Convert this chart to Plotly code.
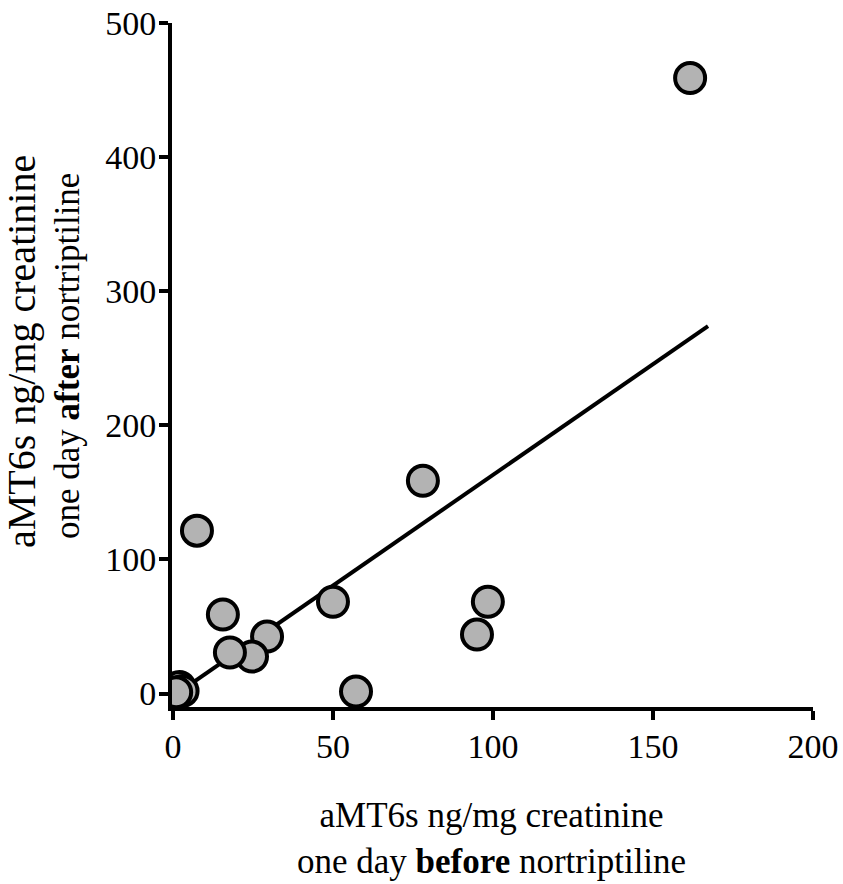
import plotly.graph_objects as go

before_x = [161.6, 78.1, 7.5, 50, 15.6, 29.4, 24.7, 17.8, 57.2, 98.4, 95, 0.5, 2, 3, 1]
after_y = [459, 158.7, 121.5, 68.5, 59, 42.5, 27.6, 30.6, 1.5, 68.5, 44, 3, 5, 2, 1]
fit_x = [0, 167.2]
fit_y = [-2, 274]

x_ticks = [0, 50, 100, 150, 200]
y_ticks = [0, 100, 200, 300, 400, 500]

FONT = "Liberation Serif"

fig = go.Figure()
fig.add_trace(go.Scatter(x=fit_x, y=fit_y, mode="lines",
                         line=dict(color="black", width=4), hoverinfo="skip"))
fig.add_trace(go.Scatter(x=before_x, y=after_y, mode="markers",
                         marker=dict(size=30, color="#b3b3b3",
                                     line=dict(color="black", width=4))))

axis_common = dict(showgrid=False, zeroline=False, showline=True, linecolor="black",
                   linewidth=4, ticks="outside", ticklen=9, tickwidth=4, tickcolor="black",
                   automargin=False,
                   tickfont=dict(family=FONT, size=34, color="black"))

fig.update_xaxes(range=[-0.3, 200], tickvals=x_ticks, ticklabelstandoff=-3, **axis_common)
fig.update_yaxes(range=[-10, 500], tickvals=y_ticks, ticklabelstandoff=-4, **axis_common)

# plot area: left 172, right 813, top 23, bottom 707
PW = 843 - 172 - 30
PH = 884 - 23 - 177

def px_to_paper_x(px):
    return (px - 172) / PW

def py_to_paper_y(py):
    return (707 - py) / PH

fig.add_annotation(xref="paper", yref="paper", x=px_to_paper_x(491), y=py_to_paper_y(838),
                   yanchor="middle", showarrow=False,
                   text="aMT6s ng/mg creatinine<br>one day <b>before</b> nortriptiline",
                   font=dict(family=FONT, size=35, color="black"))
fig.add_annotation(xref="paper", yref="paper", x=px_to_paper_x(21), y=py_to_paper_y(352),
                   xanchor="center", yanchor="middle", textangle=-90, showarrow=False,
                   text="aMT6s ng/mg creatinine",
                   font=dict(family=FONT, size=40, color="black"))
fig.add_annotation(xref="paper", yref="paper", x=px_to_paper_x(67), y=py_to_paper_y(356),
                   xanchor="center", yanchor="middle", textangle=-90, showarrow=False,
                   text="one day <b>after</b> nortriptiline",
                   font=dict(family=FONT, size=35, color="black"))

fig.update_layout(width=843, height=884, showlegend=False,
                  plot_bgcolor="white", paper_bgcolor="white",
                  margin=dict(l=172, r=30, t=23, b=177))

fig.write_html("out.html")
